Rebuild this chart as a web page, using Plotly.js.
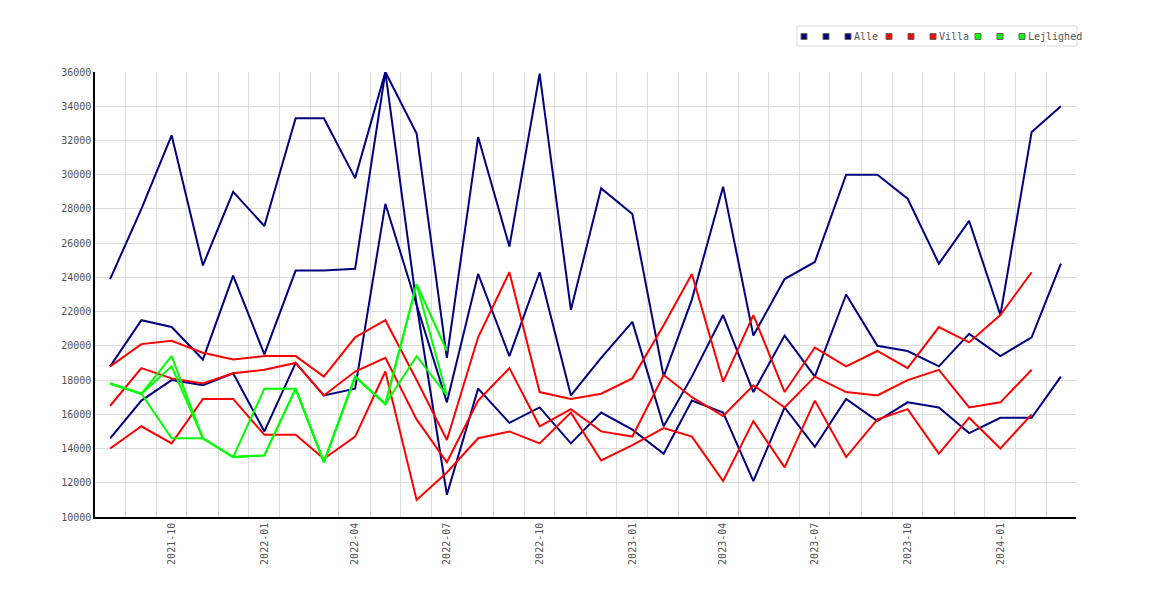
<!DOCTYPE html>
<html>
<head>
<meta charset="utf-8">
<script src="https://cdn.plot.ly/plotly-3.0.1.min.js"></script>
<style>
  body { margin: 0; background: #fff; }
  #chart { width: 1170px; height: 600px; }
</style>
</head>
<body>
<div id="chart"></div>
<script>
// months 2021-08 .. 2024-03
const months = [
  '2021-08', '2021-09', '2021-10', '2021-11', '2021-12',
  '2022-01', '2022-02', '2022-03', '2022-04', '2022-05', '2022-06',
  '2022-07', '2022-08', '2022-09', '2022-10', '2022-11', '2022-12',
  '2023-01', '2023-02', '2023-03', '2023-04', '2023-05', '2023-06',
  '2023-07', '2023-08', '2023-09', '2023-10', '2023-11', '2023-12',
  '2024-01', '2024-02', '2024-03'
];

// Alle
const alle1 = [23900, 28000, 32300, 24700, 29000, 27000, 33300, 33300, 29800, 36000, 32400,
  19300, 32200, 25800, 35900, 22100, 29200, 27700, 18200, 22700, 29300, 20600, 23900,
  24900, 30000, 30000, 28600, 24800, 27300, 21800, 32500, 34000];
const alle2 = [18800, 21500, 21100, 19200, 24100, 19500, 24400, 24400, 24500, 36000, 22400,
  11300, 17500, 15500, 16400, 14300, 16100, 15100, 13700, 16800, 16100, 12100, 16400,
  14100, 16900, 15600, 16700, 16400, 14900, 15800, 15800, 18200];
const alle3 = [14600, 16800, 18000, 17700, 18400, 15000, 19000, 17100, 17500, 28300, 22400,
  16700, 24200, 19400, 24300, 17100, 19300, 21400, 15300, 18200, 21800, 17300, 20600,
  18200, 23000, 20000, 19700, 18800, 20700, 19400, 20500, 24800];

// Villa (to 2024-02)
const villa1 = [18800, 20100, 20300, 19600, 19200, 19400, 19400, 18200, 20500, 21500, 18000,
  14500, 20500, 24300, 17300, 16900, 17200, 18100, 21200, 24200, 17900, 21800, 17300,
  19900, 18800, 19700, 18700, 21100, 20200, 21800, 24300];
const villa2 = [16500, 18700, 18100, 17800, 18400, 18600, 19000, 17100, 18500, 19300, 15700,
  13200, 16800, 18700, 15300, 16300, 15000, 14700, 18300, 17000, 15900, 17700, 16400,
  18200, 17300, 17100, 18000, 18600, 16400, 16700, 18600];
const villa3 = [14000, 15300, 14300, 16900, 16900, 14800, 14800, 13400, 14700, 18500, 11000,
  12600, 14600, 15000, 14300, 16100, 13300, 14200, 15200, 14700, 12100, 15600, 12900,
  16800, 13500, 15700, 16300, 13700, 15800, 14000, 16000];

// Lejlighed (to 2022-07)
const lejl1 = [17800, 17200, 19400, 14600, 13500, 13600, 17500, 13200, 18200, 16600, 23600, 19700];
const lejl2 = [17800, 17200, 18800, 14600, 13500, 17500, 17500, 13200, 18200, 16600, 23600, 17100];
const lejl3 = [17800, 17200, 14600, 14600, 13500, 13600, 17500, 13200, 18200, 16600, 19400, 17100];

const groups = [
  { name: 'Alle', color: '#000080', series: [alle1, alle2, alle3] },
  { name: 'Villa', color: '#ff0000', series: [villa1, villa2, villa3] },
  { name: 'Lejlighed', color: '#00ff00', series: [lejl1, lejl2, lejl3] }
];

const dates = months.map((m) => m + '-01');
const mono = 'DejaVu Sans Mono, monospace';

// plot box in page pixels, used to place the hand made legend
const box = { l: 95, r: 1076, t: 72, b: 517 };
const px = (x) => (x - box.l) / (box.r - box.l);
const py = (y) => (box.b - y) / (box.b - box.t);

let lines = [];
groups.forEach((g) => {
  g.series.forEach((vals) => {
    lines.push({
      x: dates.slice(0, vals.length),
      y: vals,
      type: 'scatter',
      mode: 'lines',
      name: g.name,
      line: { color: g.color, width: 2 },
      showlegend: false
    });
  });
});

// legend: three swatches per group, name after the third
let shapes = [{
  type: 'rect', xref: 'paper', yref: 'paper',
  x0: px(797), x1: px(1077), y0: py(46), y1: py(26),
  line: { color: '#ddd', width: 1 }, fillcolor: '#fff', layer: 'below'
}];
let notes = [];
const groupStart = [804, 889, 978];
groups.forEach((g, gi) => {
  for (let k = 0; k < 3; k++) {
    let cx = groupStart[gi] + k * 22;
    shapes.push({
      type: 'rect', xref: 'paper', yref: 'paper',
      x0: px(cx - 3), x1: px(cx + 3), y0: py(39.5), y1: py(33.5),
      line: { color: '#666', width: 1 }, fillcolor: g.color
    });
  }
  notes.push({
    xref: 'paper', yref: 'paper',
    x: px(groupStart[gi] + 2 * 22 + 4), y: py(36.5),
    xanchor: 'left', yanchor: 'middle',
    text: g.name, showarrow: false,
    font: { family: mono, size: 10, color: '#555' }
  });
});

let layout = {
  width: 1170,
  height: 600,
  margin: { l: 95, r: 94, t: 72, b: 83 },
  paper_bgcolor: '#fff',
  plot_bgcolor: '#fff',
  font: { family: mono, size: 10, color: '#555' },
  showlegend: false,
  shapes: shapes,
  annotations: notes,
  xaxis: {
    type: 'date',
    range: ['2021-07-17', '2024-03-16'],
    tick0: '2021-10-01',
    dtick: 'M3',
    tickformat: '%Y-%m',
    tickangle: -90,
    ticks: '',
    showgrid: false,
    zeroline: false,
    showline: true,
    linecolor: '#000',
    linewidth: 1.5,
    minor: { tick0: '2021-07-16', dtick: 'M1', showgrid: true, gridcolor: '#ddd', gridwidth: 1, ticks: '' }
  },
  yaxis: {
    range: [10000, 36000],
    tick0: 10000,
    dtick: 2000,
    tickformat: 'd',
    ticks: '',
    showgrid: true,
    gridcolor: '#ddd',
    gridwidth: 1,
    zeroline: false,
    showline: true,
    linecolor: '#000',
    linewidth: 1.5
  }
};

Plotly.newPlot('chart', lines, layout, { displayModeBar: false });
</script>
</body>
</html>
